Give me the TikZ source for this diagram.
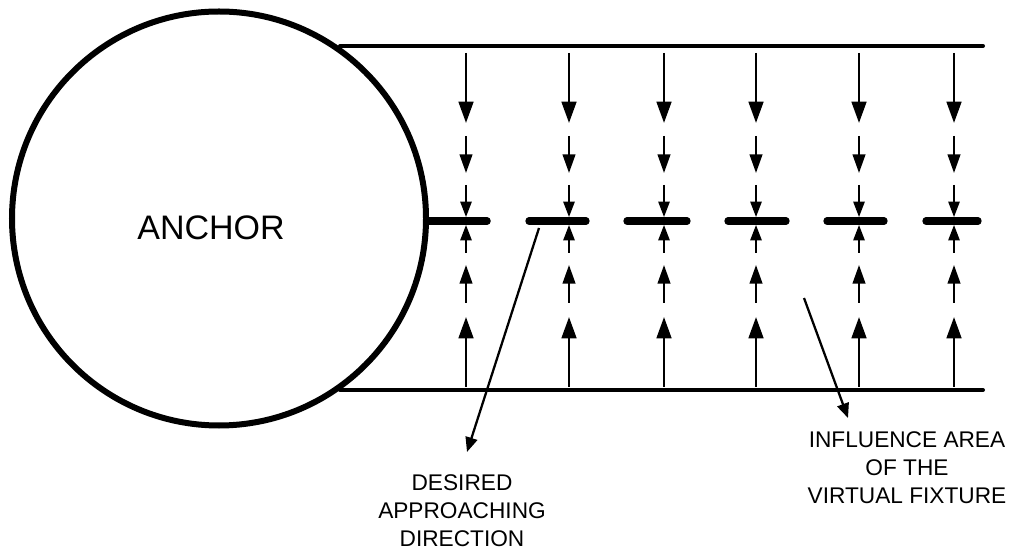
\documentclass[tikz,border=0pt]{standalone}
\usepackage{fontspec}
\setmainfont{Liberation Sans}
\usetikzlibrary{arrows.meta}
\begin{document}
\begin{tikzpicture}[x=0.75pt,y=-0.75pt,
  rail/.style={line width=3pt, line cap=round},
  fixture/.style={line width=5.5pt, line cap=round},
  bigarr/.style={line width=2pt, -{Triangle[length=16pt,width=11pt]}},
  midarr/.style={line width=1.6pt, -{Triangle[length=14pt,width=9.5pt]}},
  smallarr/.style={line width=1.2pt, -{Triangle[length=11.5pt,width=8.5pt]}},
  pointer/.style={line width=1.7pt, -{Triangle[length=11pt,width=9pt]}},
  lbl/.style={font=\fontsize{17}{21}\selectfont, align=center, inner sep=0pt}]
\useasboundingbox (0,0) rectangle (1016,555);
% anchor circle
\node[circle, draw, line width=4.5pt, minimum size=310.5pt, inner sep=0pt] (anchor) at (219,218.5) {};
\node[font=\fontsize{25.5}{30}\selectfont, inner sep=0pt, anchor=base] (anchortext) at (211,240) {ANCHOR};
% rails
\coordinate (tl) at (340,46); \coordinate (tr) at (983,46);
\coordinate (bl) at (340,390); \coordinate (br) at (983,390);
\draw[rail] (tl) -- (tr);
\draw[rail] (bl) -- (br);
% fixture segments
\coordinate (s1a) at (426,221); \coordinate (s1b) at (487,221);
\draw[line width=5.5pt] (s1a) -- (s1b);
\draw[fixture] (s1b) -- ++(0.1,0);
\foreach \a/\b [count=\i from 2] in {529/586, 627/687, 728/786, 827/884, 926/978}{
  \coordinate (s\i a) at (\a,221); \coordinate (s\i b) at (\b,221);
  \draw[fixture] (s\i a) -- (s\i b);
}
% force arrows
\foreach \x [count=\i] in {466,569,664,756,859,954}{
  \coordinate (c\i a) at (\x,53);  \coordinate (c\i b) at (\x,123);
  \coordinate (c\i c) at (\x,136); \coordinate (c\i d) at (\x,173);
  \coordinate (c\i e) at (\x,185); \coordinate (c\i f) at (\x,217);
  \coordinate (c\i g) at (\x,253); \coordinate (c\i h) at (\x,225);
  \coordinate (c\i k) at (\x,303); \coordinate (c\i l) at (\x,265);
  \coordinate (c\i m) at (\x,387); \coordinate (c\i n) at (\x,317);
  \draw[bigarr] (c\i a) -- (c\i b);
  \draw[midarr] (c\i c) -- (c\i d);
  \draw[smallarr] (c\i e) -- (c\i f);
  \draw[smallarr] (c\i g) -- (c\i h);
  \draw[midarr] (c\i k) -- (c\i l);
  \draw[bigarr] (c\i m) -- (c\i n);
}
% labels
\node[lbl, anchor=north] (desired) at (462,474) {DESIRED\\APPROACHING\\DIRECTION};
\node[lbl, anchor=north] (influence) at (907,431) {INFLUENCE AREA\\OF THE\\VIRTUAL FIXTURE};
% pointers
\coordinate (p1s) at (539,228); \coordinate (p1e) at (467,452);
\coordinate (p2s) at (804,298); \coordinate (p2e) at (848,418);
\draw[pointer] (p1s) -- (p1e);
\draw[pointer] (p2s) -- (p2e);
\end{tikzpicture}
\end{document}
